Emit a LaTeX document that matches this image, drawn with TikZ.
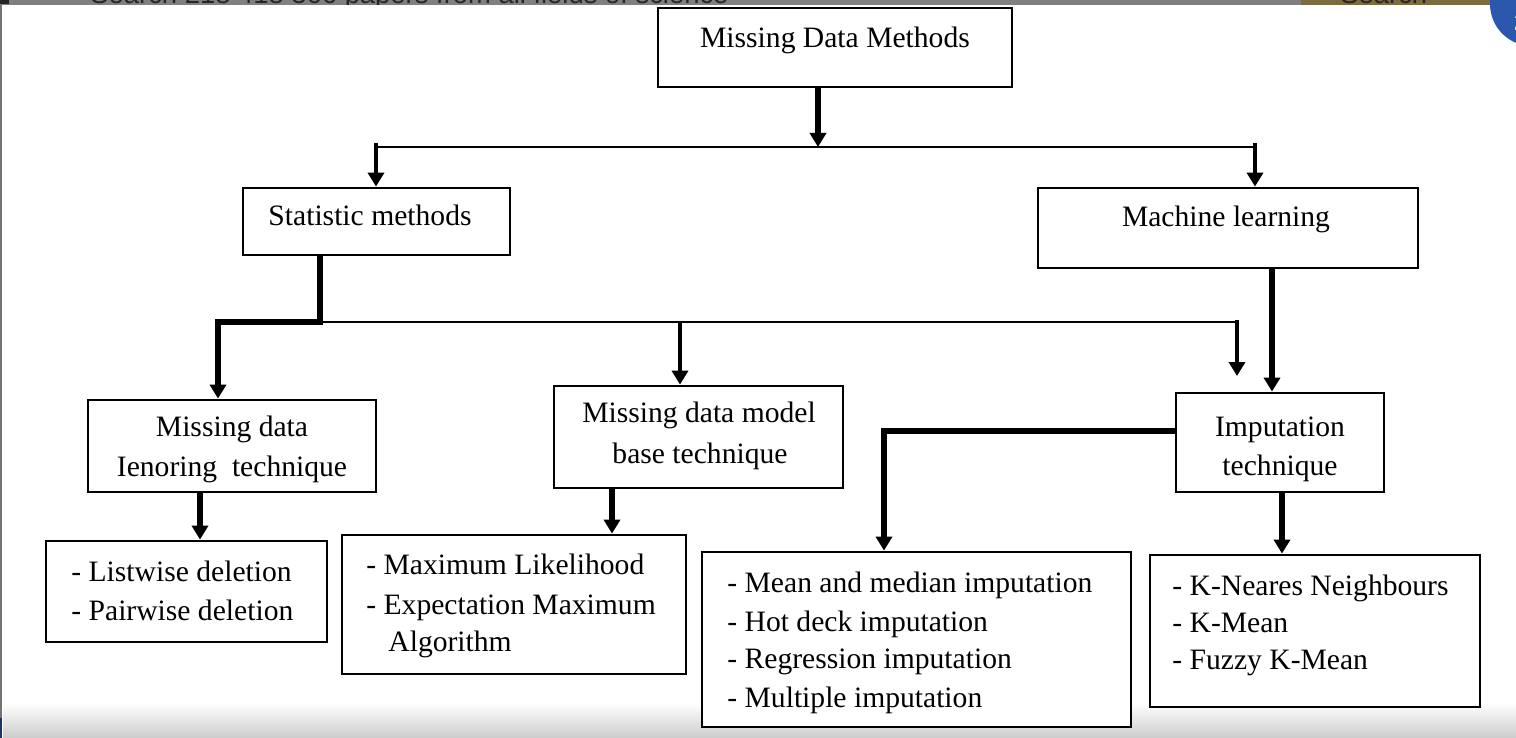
\documentclass[tikz,border=0pt]{standalone}
\usepackage{fontspec}
\setmainfont{Liberation Serif}
\newfontfamily\barfont{Liberation Sans}
\usetikzlibrary{arrows.meta,fit,calc}
\definecolor{bargray}{HTML}{808080}
\definecolor{bartan}{HTML}{7C6B3C}
\definecolor{badgeblue}{HTML}{2B57AD}
\begin{document}
\begin{tikzpicture}[x=0.5pt,y=-0.5pt,
  box/.style={draw, line width=1.4pt, inner sep=0pt, fill=white},
  txt/.style={font=\fontsize{14.8}{19.5}\selectfont, inner sep=0pt, text height=0.68em, text depth=0.21em, yshift=-2.2pt},
  bartxt/.style={font=\barfont\fontsize{13.7}{16}\selectfont, text=black!85, inner sep=0pt},
  thinline/.style={line width=1.35pt},
  medline/.style={line width=2.2pt},
  heavyline/.style={line width=3.4pt},
  tipped/.style={-{Triangle[length=7pt,width=8pt]}}
]
\useasboundingbox (0,0) rectangle (1516,738);

% screenshot surroundings
\fill[bargray] (0,0) rectangle (1301,5);
\fill[bartan] (1301,0) rectangle (1490,5);
\fill[black!85] (0,0) rectangle (9,4);
\begin{scope}
  \clip (0,0) rectangle (1490,5);
  \node[bartxt, anchor=base west] (searchbar) at (90,4) {Search 218 418 366 papers from all fields of science};
  \node[bartxt, anchor=base west] (searchbtn) at (1340,4) {Search};
\end{scope}
\fill[badgeblue] (1532,4) circle (42);
\node[font=\barfont\bfseries\fontsize{12}{14}\selectfont, text=white, inner sep=0pt] (badge) at (1521,22) {2};
\fill[black!55] (0,5) rectangle (1.6,718);
\fill[badgeblue!60!black] (0,718) rectangle (2,738);
\shade[top color=white, bottom color=black!20] (3,703) rectangle (1516,738);

% boxes
\node[box, fit={(658,8) (1012,87)}] (top) {};
\node[box, fit={(243,188) (510,255)}] (stat) {};
\node[box, fit={(1038,188) (1418,268)}] (ml) {};
\node[box, fit={(88,400) (376,492)}] (ign) {};
\node[box, fit={(554,386) (843,488)}] (mdm) {};
\node[box, fit={(1176,393) (1384,492)}] (imp) {};
\node[box, fit={(46,541) (327,642)}] (lw) {};
\node[box, fit={(342,535) (686,674)}] (mlk) {};
\node[box, fit={(702,552) (1131,727)}] (mean) {};
\node[box, fit={(1150,555) (1480,707)}] (knn) {};

% texts
\node[txt] (t1) at (835,38) {Missing Data Methods};
\node[txt] (t2) at (370,216) {Statistic methods};
\node[txt] (t3) at (1226,217) {Machine learning};
\node[txt] (t4a) at (232,427) {Missing data};
\node[txt] (t4b) at (232,467) {Ienoring\ \ technique};
\node[txt] (t5a) at (699,413) {Missing data model};
\node[txt] (t5b) at (700,454) {base technique};
\node[txt] (t6a) at (1280,427) {Imputation};
\node[txt] (t6b) at (1280,466) {technique};
\node[txt, anchor=west] (l1) at (71,572) {- Listwise deletion};
\node[txt, anchor=west] (l2) at (71,611) {- Pairwise deletion};
\node[txt, anchor=west] (m1) at (366,565) {- Maximum Likelihood};
\node[txt, anchor=west] (m2) at (366,605) {- Expectation Maximum};
\node[txt, anchor=west] (m3) at (388,642) {Algorithm};
\node[txt, anchor=west] (n1) at (727,583) {- Mean and median imputation};
\node[txt, anchor=west] (n2) at (727,622) {- Hot deck imputation};
\node[txt, anchor=west] (n3) at (727,659) {- Regression imputation};
\node[txt, anchor=west] (n4) at (727,698) {- Multiple imputation};
\node[txt, anchor=west] (k1) at (1172,586) {- K-Neares Neighbours};
\node[txt, anchor=west] (k2) at (1172,623) {- K-Mean};
\node[txt, anchor=west] (k3) at (1172,660) {- Fuzzy K-Mean};

% junction coordinates
\coordinate (j1) at (818,147);
\coordinate (a1) at (376,147);
\coordinate (a2) at (1255,147);
\coordinate (b0) at (320,322);
\coordinate (b1) at (218,322);
\coordinate (b2) at (680,322);
\coordinate (b3) at (1237,322);
\coordinate (b4) at (1237,376);
\coordinate (mlx) at (1272,300);
\coordinate (d1) at (884,431);
\coordinate (x1) at (200,500);
\coordinate (x2) at (612,500);
\coordinate (x3) at (1282,500);

% connectors
\draw[heavyline, tipped] (top.south -| j1) -- (j1);
\draw[thinline] (a1) -- (a2);
\draw[medline, tipped] ([yshift=2pt]a1) -- (a1 |- stat.north);
\draw[medline, tipped] ([yshift=2pt]a2) -- (a2 |- ml.north);
\draw[heavyline, tipped] (stat.south -| b0) -- (b0) -- (b1) -- (b1 |- ign.north);
\draw[thinline] (b0) -- (b3);
\draw[medline, tipped] (b2) -- (b2 |- mdm.north);
\draw[medline, tipped] ([yshift=1pt]b3) -- (b4);
\draw[heavyline, tipped] (ml.south -| mlx) -- (mlx |- imp.north);
\draw[heavyline, tipped] (ign.south -| x1) -- (x1 |- lw.north);
\draw[heavyline, tipped] (mdm.south -| x2) -- (x2 |- mlk.north);
\draw[heavyline, tipped] (imp.west |- d1) -- (d1) -- (d1 |- mean.north);
\draw[heavyline, tipped] (imp.south -| x3) -- (x3 |- knn.north);
\end{tikzpicture}
\end{document}
